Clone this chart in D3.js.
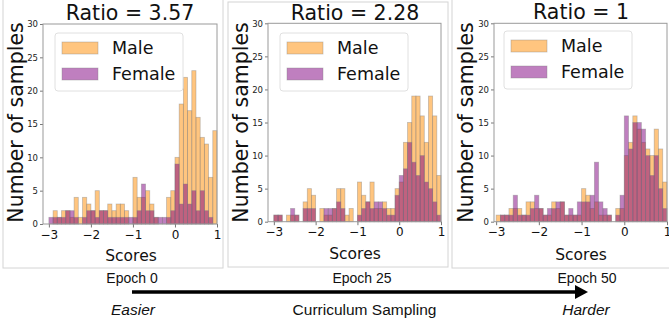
<!DOCTYPE html>
<html>
<head>
<meta charset="utf-8">
<script src="https://cdn.jsdelivr.net/npm/d3@7"></script>
<style>
  body { margin: 0; background: #fff; }
  svg { display: block; }
</style>
</head>
<body>
<svg id="fig" width="669" height="327"></svg>
<script>
// histogram bins: left edges, width 0.1
const binStarts = [-3.0, -2.9, -2.8, -2.7, -2.6, -2.5, -2.4, -2.3, -2.2, -2.1,
                   -2.0, -1.9, -1.8, -1.7, -1.6, -1.5, -1.4, -1.3, -1.2, -1.1,
                   -1.0, -0.9, -0.8, -0.7, -0.6, -0.5, -0.4, -0.3, -0.2, -0.1,
                    0.0,  0.1,  0.2,  0.3,  0.4,  0.5,  0.6,  0.7,  0.8,  0.9];
const binWidth = 0.1;

const maleEpoch0 = [0, 2, 1, 2, 2, 1, 4, 1, 4, 3, 2, 5, 2, 2, 3, 2, 3, 3, 2, 0,
                    7, 4, 4, 5, 3, 1, 0, 0, 4, 5, 10, 18, 22, 17, 23, 16, 13, 12, 7, 14];
const femaleEpoch0 = [1, 1, 1, 1, 2, 2, 1, 0, 1, 2, 2, 1, 2, 2, 1, 1, 1, 1, 1, 1,
                      1, 2, 6, 2, 2, 1, 1, 1, 1, 2, 9, 3, 6, 3, 5, 2, 5, 2, 1, 0];

const maleEpoch25 = [1, 1, 0, 1, 1, 1, 0, 3, 5, 4, 0, 2, 1, 1, 2, 5, 5, 1, 2, 0,
                     6, 4, 3, 6, 2, 2, 3, 2, 2, 5, 6, 12, 15, 19, 19, 16, 12, 19, 16, 7];
const femaleEpoch25 = [1, 1, 0, 0, 2, 1, 0, 2, 2, 2, 0, 0, 2, 2, 2, 3, 2, 0, 0, 0,
                       1, 2, 3, 2, 3, 3, 2, 1, 1, 4, 7, 8, 12, 9, 7, 10, 6, 5, 3, 1];

const maleEpoch50 = [1, 1, 1, 2, 2, 2, 1, 3, 3, 2, 2, 1, 1, 3, 2, 3, 1, 1, 1, 1,
                     5, 4, 2, 3, 1, 1, 1, 0, 2, 2, 10, 12, 16, 14, 12, 11, 10, 14, 11, 6];
const femaleEpoch50 = [0, 1, 1, 1, 4, 1, 1, 1, 2, 4, 2, 1, 2, 2, 3, 3, 1, 2, 1, 3,
                       3, 3, 4, 9, 3, 2, 1, 0, 1, 4, 16, 11, 15, 15, 14, 10, 7, 10, 5, 2];

const titles = ["Ratio = 3.57", "Ratio = 2.28", "Ratio = 1"];
const epochLabels = ["Epoch 0", "Epoch 25", "Epoch 50"];
const seriesNames = ["Male", "Female"];
const xTicks = [-3, -2, -1, 0, 1];
const yTicks = [0, 5, 10, 15, 20, 25, 30];

var maleFill = "#ff8c00", femaleFill = "#800080";
var fontMpl = "'DejaVu Sans', sans-serif";
var fontArial = "'Liberation Sans', Arial, sans-serif";

var panels = [
    { male: maleEpoch0, female: femaleEpoch0, title: titles[0], epoch: epochLabels[0],
      frame: [3, -5, 220, 273], plot: { l: 43, r: 217, t: 24, b: 224 }, xmin: -3.14,
      titleX: 130, titleY: 20, ylabX: 23, xlabX: 131, xlabY: 261, epochX: 132, legX: 55, legY: 33 },
    { male: maleEpoch25, female: femaleEpoch25, title: titles[1], epoch: epochLabels[1],
      frame: [228, 2, 220, 265], plot: { l: 268, r: 441, t: 23.3, b: 221.7 }, xmin: -3.14,
      titleX: 355, titleY: 20, ylabX: 248, xlabX: 355, xlabY: 259, epochX: 362, legX: 280, legY: 33 },
    { male: maleEpoch50, female: femaleEpoch50, title: titles[2], epoch: epochLabels[2],
      frame: [452, -5, 230, 273], plot: { l: 494, r: 667, t: 23.3, b: 221.7 }, xmin: -3.05,
      titleX: 581, titleY: 19, ylabX: 473, xlabX: 581, xlabY: 260, epochX: 587, legX: 504, legY: 31 }
];

var svg = d3.select("#fig");

panels.forEach(function (p) {
    var g = svg.append("g");

    // outer frame around each panel
    g.append("rect")
        .attr("x", p.frame[0]).attr("y", p.frame[1])
        .attr("width", p.frame[2]).attr("height", p.frame[3])
        .attr("fill", "none")
        .attr("stroke", "#d4d4d4")
        .attr("stroke-width", 1);

    var x = d3.scaleLinear().domain([p.xmin, 1]).range([p.plot.l, p.plot.r]);
    var y = d3.scaleLinear().domain([0, 30]).range([p.plot.b, p.plot.t]);

    // male bars first, female drawn over them
    [[p.male, maleFill], [p.female, femaleFill]].forEach(function (s) {
        var counts = s[0];
        g.append("g")
            .selectAll("rect")
            .data(binStarts.map(function (b, i) { return { x0: b, n: counts[i] }; })
                .filter(function (d) { return d.n > 0; }))
            .enter().append("rect")
            .attr("x", function (d) { return x(d.x0); })
            .attr("y", function (d) { return y(d.n); })
            .attr("width", function (d) { return x(d.x0 + binWidth) - x(d.x0); })
            .attr("height", function (d) { return y(0) - y(d.n); })
            .attr("fill", s[1])
            .attr("fill-opacity", 0.5)
            .attr("stroke", "#808080")
            .attr("stroke-opacity", 0.45)
            .attr("stroke-width", 0.8);
    });

    // axes
    var xAxis = g.append("g")
        .attr("transform", "translate(0," + p.plot.b + ")")
        .call(d3.axisBottom(x).tickValues(xTicks).tickFormat(d3.format("d"))
            .tickSize(3.5).tickPadding(2.5).tickSizeOuter(0));
    xAxis.selectAll("text").attr("font-size", 12).attr("font-family", fontMpl).attr("fill", "#111");

    var yAxis = g.append("g")
        .attr("transform", "translate(" + p.plot.l + ",0)")
        .call(d3.axisLeft(y).tickValues(yTicks).tickSize(3).tickPadding(2).tickSizeOuter(0));
    yAxis.selectAll("text").attr("font-size", 8.5).attr("font-family", fontMpl).attr("fill", "#222");

    g.selectAll(".domain").remove();
    g.selectAll(".tick line").attr("stroke", "#555").attr("stroke-width", 0.8);

    // spines
    g.append("rect")
        .attr("x", p.plot.l).attr("y", p.plot.t)
        .attr("width", p.plot.r - p.plot.l).attr("height", p.plot.b - p.plot.t)
        .attr("fill", "none")
        .attr("stroke", "#9a9a9a")
        .attr("stroke-width", 1);

    // legend
    var leg = g.append("g").attr("transform", "translate(" + p.legX + "," + p.legY + ")");
    leg.append("rect")
        .attr("width", 128).attr("height", 58).attr("rx", 3)
        .attr("fill", "#fff").attr("fill-opacity", 0.8)
        .attr("stroke", "#e0e0e0");
    [maleFill, femaleFill].forEach(function (c, i) {
        leg.append("rect")
            .attr("x", 7).attr("y", 9 + i * 26)
            .attr("width", 36).attr("height", 12)
            .attr("fill", c).attr("fill-opacity", 0.5)
            .attr("stroke", "#808080").attr("stroke-opacity", 0.45).attr("stroke-width", 0.8);
        leg.append("text")
            .attr("x", 57).attr("y", 21 + i * 26)
            .attr("font-family", fontMpl).attr("font-size", 17.5).attr("fill", "#111")
            .text(seriesNames[i]);
    });

    // titles and labels
    g.append("text")
        .attr("x", p.titleX).attr("y", p.titleY)
        .attr("text-anchor", "middle")
        .attr("font-family", fontMpl).attr("font-size", 20.5).attr("fill", "#111")
        .text(p.title);

    g.append("text")
        .attr("transform", "translate(" + p.ylabX + "," + 122.5 + ")rotate(-90)")
        .attr("text-anchor", "middle")
        .attr("font-family", fontMpl).attr("font-size", 20.5).attr("fill", "#111")
        .text("Number of samples");

    g.append("text")
        .attr("x", p.xlabX).attr("y", p.xlabY)
        .attr("text-anchor", "middle")
        .attr("font-family", fontMpl).attr("font-size", 15.5).attr("fill", "#111")
        .text("Scores");

    g.append("text")
        .attr("x", p.epochX).attr("y", 283)
        .attr("text-anchor", "middle")
        .attr("font-family", fontArial).attr("font-size", 14).attr("fill", "#111")
        .text(p.epoch);
});

// curriculum arrow along the bottom
svg.append("line")
    .attr("x1", 132).attr("y1", 292).attr("x2", 578).attr("y2", 292)
    .attr("stroke", "#000").attr("stroke-width", 3.3);
svg.append("path")
    .attr("d", "M575,285 L588,292 L575,299 Z")
    .attr("fill", "#000");

var bottom = [
    { t: "Easier", x: 133, italic: true },
    { t: "Curriculum Sampling", x: 364.5, italic: false },
    { t: "Harder", x: 586, italic: true }
];
svg.selectAll("text.bottom")
    .data(bottom)
    .enter().append("text")
    .attr("class", "bottom")
    .attr("x", function (d) { return d.x; })
    .attr("y", 315)
    .attr("text-anchor", "middle")
    .attr("font-family", fontArial)
    .attr("font-size", 15.5)
    .attr("font-style", function (d) { return d.italic ? "italic" : "normal"; })
    .attr("fill", "#111")
    .text(function (d) { return d.t; });
</script>
</body>
</html>
